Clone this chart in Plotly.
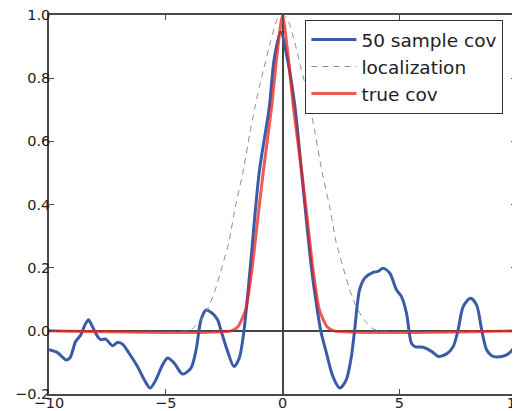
import plotly.graph_objects as go

# 50 sample covariance (blue)
sample_x = [-10.0, -9.64, -9.40, -9.28, -9.10, -8.86, -8.64, -8.45, -8.31, -8.15, -8.07, -7.90, -7.78,
            -7.57, -7.28, -7.07, -6.85, -6.57, -6.21, -5.92, -5.67, -5.42, -5.16, -4.92, -4.64, -4.28,
            -3.92, -3.70, -3.49, -3.27, -3.00, -2.78, -2.63, -2.35, -2.08, -1.85, -1.65, -1.39, -1.00,
            -0.57, -0.35, -0.08, 0.20, 0.54, 0.82, 1.25, 1.49, 1.64, 1.88, 2.16, 2.45, 2.73, 2.95, 3.09,
            3.30, 3.52, 3.88, 4.09, 4.30, 4.59, 4.88, 5.09, 5.31, 5.52, 5.67, 6.02, 6.38, 6.67, 7.03,
            7.31, 7.52, 7.74, 8.05, 8.31, 8.53, 8.74, 8.96, 9.17, 9.60, 9.82, 10.0]
sample_y = [-0.060, -0.069, -0.085, -0.092, -0.085, -0.034, -0.013, 0.020, 0.035, 0.015, 0.003, -0.020, -0.028,
            -0.026, -0.047, -0.037, -0.042, -0.071, -0.113, -0.155, -0.181, -0.155, -0.111, -0.086, -0.102, -0.137,
            -0.118, -0.060, 0.035, 0.066, 0.055, 0.035, 0.000, -0.065, -0.113, -0.086, 0.000, 0.193, 0.500,
            0.706, 0.864, 0.946, 0.864, 0.706, 0.500, 0.193, 0.066, 0.000, -0.070, -0.145, -0.181, -0.155, -0.081, 0.003,
            0.130, 0.167, 0.185, 0.188, 0.198, 0.183, 0.130, 0.109, 0.056, -0.039, -0.050, -0.052, -0.065, -0.081, -0.073,
            -0.050, 0.003, 0.077, 0.103, 0.082, 0.003, -0.060, -0.079, -0.083, -0.076, -0.062, -0.044]

# localization function (dashed gray)
loc_x = [-10.0, -4.1, -3.8, -3.5, -3.2, -2.9, -2.6, -2.3, -2.0, -1.7, -1.4, -1.2, -1.0, -0.8, -0.5, -0.2, 0.0,
         0.2, 0.5, 0.8, 1.0, 1.2, 1.4, 1.7, 2.0, 2.3, 2.6, 2.9, 3.2, 3.5, 3.8, 4.1, 10.0]
loc_y = [0.0, 0.0, 0.01, 0.035, 0.07, 0.125, 0.20, 0.28, 0.40, 0.50, 0.625, 0.70, 0.77, 0.83, 0.92, 0.99, 1.0,
         0.99, 0.92, 0.83, 0.77, 0.70, 0.625, 0.50, 0.40, 0.28, 0.20, 0.125, 0.07, 0.035, 0.01, 0.0, 0.0]

# true covariance (red)
true_x = [-10.0, -2.2, -1.9, -1.58, -1.31, -1.05, -0.83, -0.47, -0.25, 0.0,
          0.25, 0.47, 0.83, 1.05, 1.31, 1.58, 1.9, 2.2, 10.0]
true_y = [0.0, 0.0, 0.014, 0.066, 0.193, 0.36, 0.50, 0.706, 0.864, 1.0,
          0.864, 0.706, 0.50, 0.36, 0.193, 0.066, 0.014, 0.0, 0.0]

labels = ["50 sample cov", "localization", "true cov"]
font_family = "DejaVu Sans, Liberation Sans, sans-serif"

fig = go.Figure()
fig.add_trace(go.Scatter(x=sample_x, y=sample_y, mode="lines", name=labels[0],
                         line=dict(color="#3a5ba8", width=3, shape="spline", smoothing=0.8),
                         legendgroup="a"))
fig.add_trace(go.Scatter(x=loc_x, y=loc_y, mode="lines", name=labels[1],
                         line=dict(color="#8c8c8c", width=1, dash="6px,5px", shape="spline", smoothing=0.6),
                         legendgroup="b"))
fig.add_trace(go.Scatter(x=true_x, y=true_y, mode="lines", name=labels[2],
                         line=dict(color="rgba(232,35,30,0.75)", width=3, shape="spline", smoothing=0.6),
                         legendgroup="c"))

axis_common = dict(
    showgrid=False, showline=True, linecolor="#4a4a4a", linewidth=1.6, mirror="ticks",
    ticks="inside", ticklen=5, tickwidth=1, tickcolor="#4a4a4a",
    zeroline=True, zerolinecolor="#444444", zerolinewidth=1.6,
    ticklabeloverflow="allow",
    tickfont=dict(family=font_family, size=14.5, color="#222222"),
)

# page body has an 8px default margin, so the figure is made 8px smaller
fig.update_layout(
    width=512, height=403,
    margin=dict(l=41, r=4, t=7, b=17, autoexpand=False),
    paper_bgcolor="white", plot_bgcolor="white",
    xaxis=dict(range=[-10, 10], tickvals=[-10, -5, 0, 5, 10], ticklabelstandoff=-5, **axis_common),
    yaxis=dict(range=[-0.2, 1.0], tickvals=[-0.2, 0.0, 0.2, 0.4, 0.6, 0.8, 1.0], tickformat=".1f",
               ticklabelstandoff=-6, **axis_common),
    showlegend=True,
    legend=dict(x=0.973, y=0.987, xanchor="right", yanchor="top",
                bgcolor="white", bordercolor="#333333", borderwidth=1,
                font=dict(family=font_family, size=18.5, color="#222222"),
                itemwidth=45, tracegroupgap=0, traceorder="normal"),
)

fig.write_html("out.html")
